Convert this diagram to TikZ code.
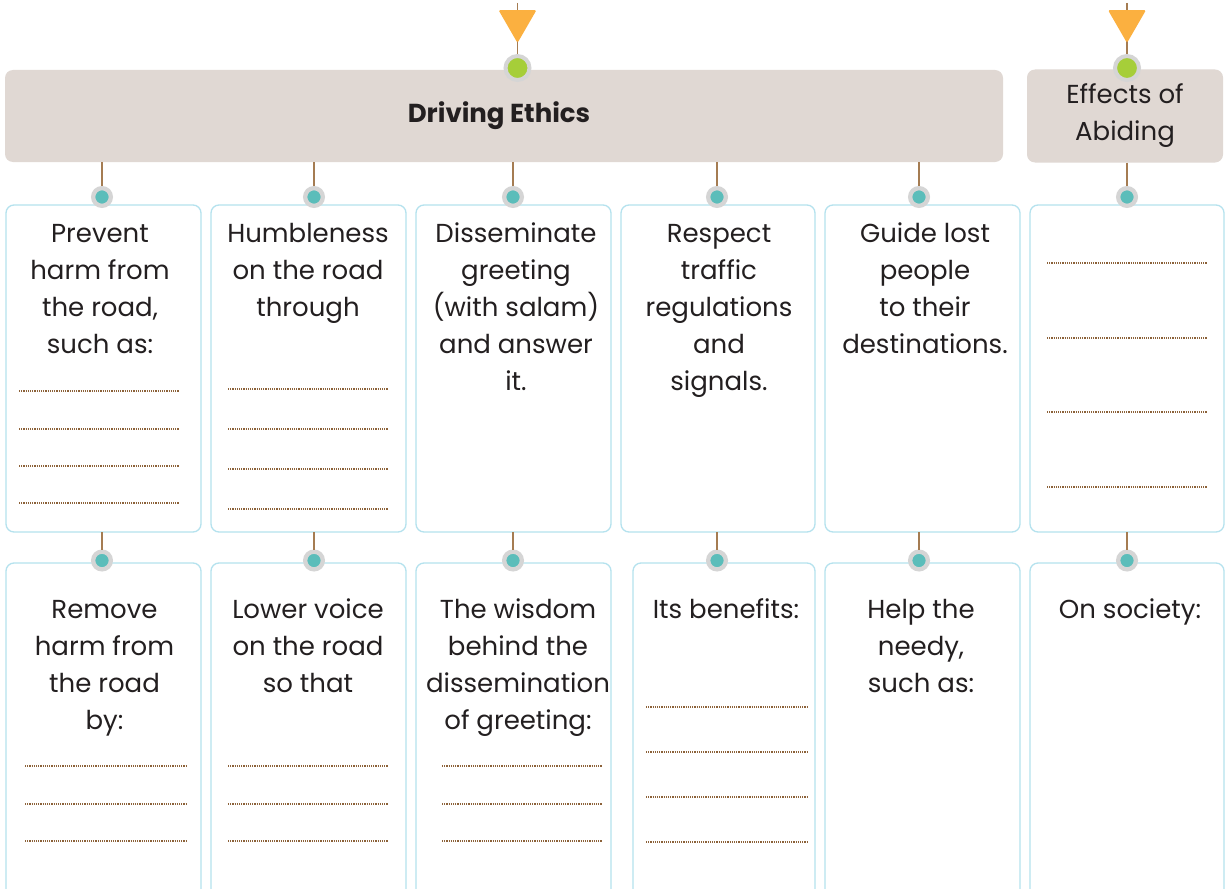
\documentclass[tikz,border=0pt]{standalone}
\usepackage{fontspec}
\setmainfont{Poppins}
\usetikzlibrary{shapes.geometric}
\definecolor{txt}{HTML}{231F20}
\definecolor{barfill}{HTML}{E0D8D3}
\definecolor{edgeblue}{HTML}{B5E2EE}
\definecolor{triorange}{HTML}{FBB040}
\definecolor{dotgreen}{HTML}{A6CE39}
\definecolor{dotteal}{HTML}{5BBDBA}
\definecolor{ringgray}{HTML}{D5D5D5}
\definecolor{stembrown}{HTML}{A57C52}
\definecolor{dotbrown}{HTML}{8C6239}
\begin{document}
\begin{tikzpicture}[x=1pt,y=-1pt,
  card/.style={draw=edgeblue, line width=1.3pt, rounded corners=8pt, fill=white, inner sep=0pt, outer sep=0pt},
  barbox/.style={fill=barfill, rounded corners=8pt, inner sep=0pt, outer sep=0pt},
  dotline/.style={draw=dotbrown, line width=1.1pt, dash pattern=on 1.1pt off 1.1pt},
  stemline/.style={draw=stembrown, line width=1.5pt},
  tealdot/.style={circle, fill=dotteal, draw=ringgray, line width=4.3pt, minimum size=17.7pt, inner sep=0pt},
  greendot/.style={circle, fill=dotgreen, draw=ringgray, line width=4pt, minimum size=24pt, inner sep=0pt},
  tri/.style={regular polygon, regular polygon sides=3, shape border rotate=180, fill=triorange, minimum size=43.9pt, inner sep=0pt, outer sep=0pt, rounded corners=1.5pt},
  lbl/.style={anchor=base, align=center, text=txt, font=\fontsize{26}{37}\selectfont, inner sep=0pt}
]
\useasboundingbox (0,0) rectangle (1225,888);
\clip (0,0) rectangle (1225,888);
\fill[white] (0,0) rectangle (1225,888);

% header boxes
\node[barbox, minimum width=998, minimum height=92] (ethics) at (504,116) {};
\node[barbox, minimum width=196, minimum height=93] (effects) at (1125,116) {};

% row 1 cards
\node[card, minimum width=195, minimum height=327] (r1a) at (103.5,368.5) {};
\node[card, minimum width=195, minimum height=327] (r1b) at (308.5,368.5) {};
\node[card, minimum width=195, minimum height=327] (r1c) at (513.5,368.5) {};
\node[card, minimum width=194, minimum height=327] (r1d) at (718,368.5) {};
\node[card, minimum width=195, minimum height=327] (r1e) at (922.5,368.5) {};
\node[card, minimum width=194, minimum height=327] (r1f) at (1127,368.5) {};

% row 2 cards
\node[card, minimum width=195, minimum height=340] (r2a) at (103.5,733) {};
\node[card, minimum width=195, minimum height=340] (r2b) at (308.5,733) {};
\node[card, minimum width=195, minimum height=340] (r2c) at (513.5,733) {};
\node[card, minimum width=182, minimum height=340] (r2d) at (724,733) {};
\node[card, minimum width=195, minimum height=340] (r2e) at (922.5,733) {};
\node[card, minimum width=194, minimum height=340] (r2f) at (1127,733) {};

% top markers
\node[greendot] (g1) at (517.5,68) {};
\node[greendot] (g2) at (1127,68) {};
\coordinate (tp1) at (517.5,3);
\coordinate (tp2) at (1127,3);
\draw[stemline, line width=1.1pt] (tp1) -- (g1);
\draw[stemline, line width=1.1pt] (tp2) -- (g2);
\node[tri] (tri1) at (517.5,21) {};
\node[tri] (tri2) at (1127,21) {};

% row 1 dots
\node[tealdot] (c1a) at (102,197) {};
\node[tealdot] (c1b) at (314,197) {};
\node[tealdot] (c1c) at (513,197) {};
\node[tealdot] (c1d) at (717,197) {};
\node[tealdot] (c1e) at (919,197) {};
\node[tealdot] (c1f) at (1127,197) {};
% row 2 dots
\node[tealdot] (c2a) at (102,560.5) {};
\node[tealdot] (c2b) at (314,560.5) {};
\node[tealdot] (c2c) at (513,560.5) {};
\node[tealdot] (c2d) at (717,560.5) {};
\node[tealdot] (c2e) at (919,560.5) {};
\node[tealdot] (c2f) at (1127,560.5) {};

% connectors
\foreach \c in {c1a,c1b,c1c,c1d,c1e} \draw[stemline] (ethics.south -| \c) -- (\c);
\draw[stemline] (effects.south -| c1f) -- (c1f);
\draw[stemline] (r1a.south -| c2a) -- (c2a);
\draw[stemline] (r1b.south -| c2b) -- (c2b);
\draw[stemline] (r1c.south -| c2c) -- (c2c);
\draw[stemline] (r1d.south -| c2d) -- (c2d);
\draw[stemline] (r1e.south -| c2e) -- (c2e);
\draw[stemline] (r1f.south -| c2f) -- (c2f);

% header texts (anchor = baseline of last line)
\node[lbl, font=\bfseries\fontsize{26}{37}\selectfont] (tethics) at (499,122.5) {Driving Ethics};
\node[lbl, font=\fontsize{26}{36}\selectfont] (teffects) at (1125,140) {Effects of\\Abiding};

% row 1 texts
\node[lbl] (t1a) at (100,353) {Prevent\\harm from\\the road,\\such as:};
\node[lbl] (t1b) at (308,316) {Humbleness\\on the road\\through};
\node[lbl] (t1c) at (516,390) {Disseminate\\greeting\\(with salam)\\and answer\\it.};
\node[lbl] (t1d) at (719,390) {Respect\\traffic\\regulations\\and\\signals.};
\node[lbl] (t1e) at (925,353) {Guide lost\\people\\to their\\destinations.};

% row 2 texts
\node[lbl] (t2a) at (104.5,729) {Remove\\harm from\\the road\\by:};
\node[lbl] (t2b) at (308,692) {Lower voice\\on the road\\so that};
\node[lbl] (t2c) at (518,729) {The wisdom\\behind the\\dissemination\\of greeting:};
\node[lbl] (t2d) at (726,618) {Its benefits:};
\node[lbl] (t2e) at (921,692) {Help the\\needy,\\such as:};
\node[lbl] (t2f) at (1130,618) {On society:};

% dotted answer lines
\foreach \y in {391,429,466,503} \draw[dotline] (19,\y) -- (179,\y);
\foreach \y in {389,429,469,509} \draw[dotline] (228,\y) -- (388,\y);
\foreach \y in {263,338,412,487} \draw[dotline] (1047,\y) -- (1207,\y);
\foreach \y in {766,804,841} \draw[dotline] (25,\y) -- (186,\y);
\foreach \y in {766,804,841} \draw[dotline] (228,\y) -- (388,\y);
\foreach \y in {766,804,841} \draw[dotline] (442,\y) -- (602,\y);
\foreach \y in {707,752,797,842} \draw[dotline] (646,\y) -- (807,\y);
\end{tikzpicture}
\end{document}
